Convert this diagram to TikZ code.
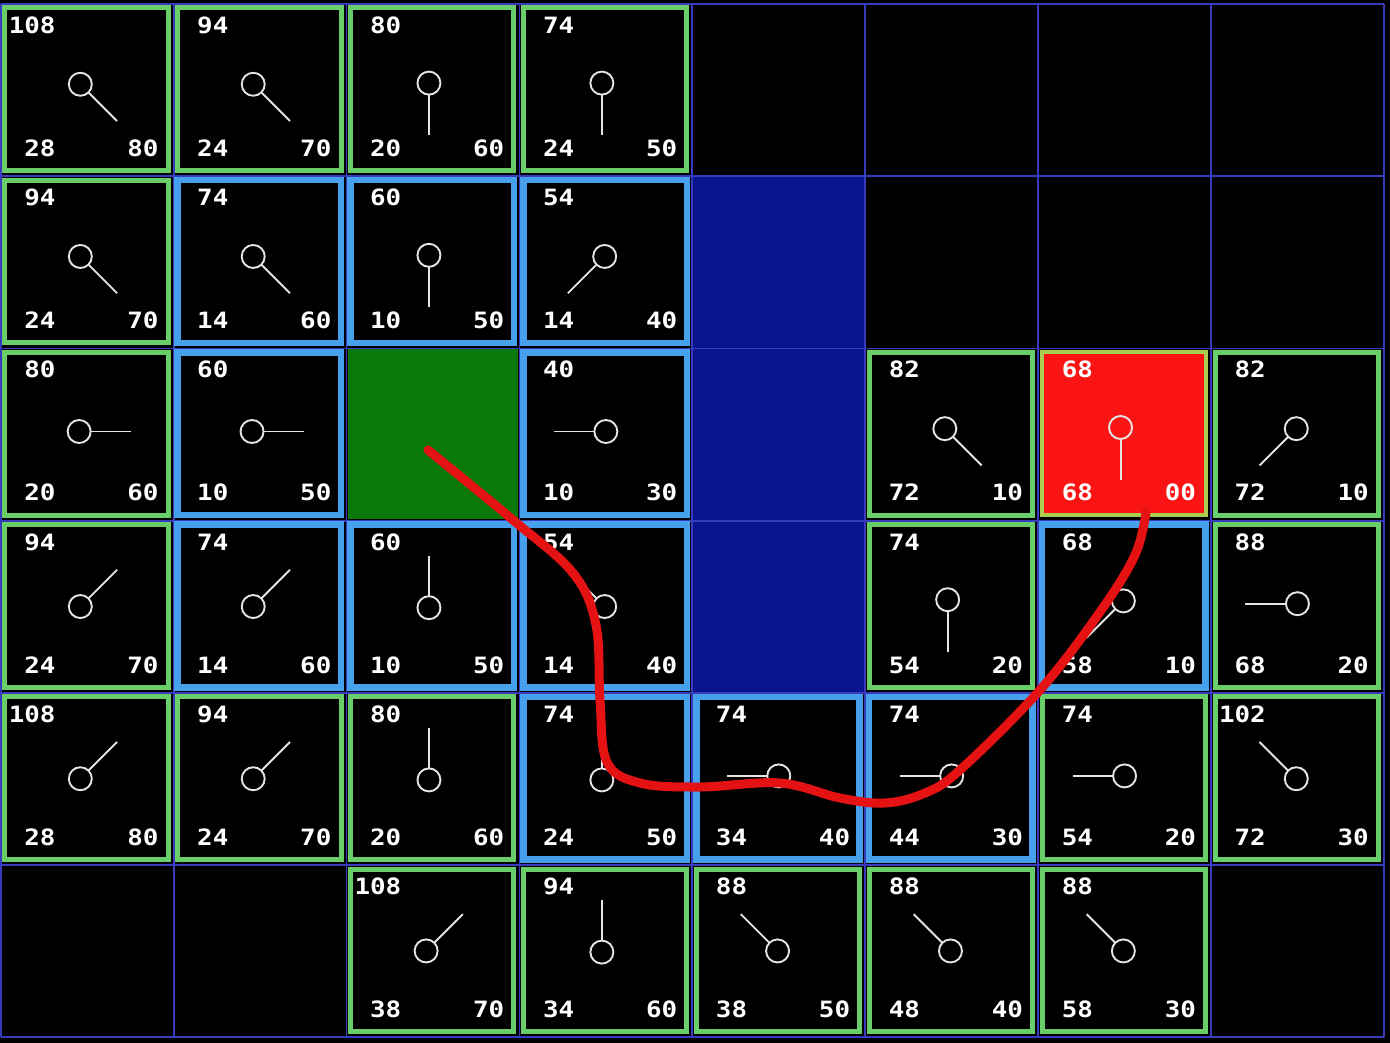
\documentclass[tikz,border=0pt]{standalone}
\usepackage{fontspec}
\usepackage{graphicx}
\newfontfamily\digitfont{DejaVu Sans Mono}
\definecolor{opengreen}{RGB}{105,205,105}
\definecolor{closedblue}{RGB}{70,160,235}
\definecolor{gridblue}{RGB}{55,60,190}
\definecolor{wallblue}{RGB}{10,20,140}
\definecolor{startgreen}{RGB}{10,120,10}
\definecolor{goalred}{RGB}{250,20,20}
\definecolor{goalrim}{RGB}{170,205,80}
\definecolor{routered}{RGB}{228,18,18}
\definecolor{pinwhite}{RGB}{228,228,228}
\tikzset{
  gridline/.style={draw=gridblue, line width=1.8pt},
  openbox/.style={draw=opengreen, line width=5pt},
  closedbox/.style={draw=closedblue, line width=6.5pt},
  goalbox/.style={fill=goalred, draw=goalrim, line width=4pt},
  wallcell/.style={fill=wallblue},
  startcell/.style={fill=startgreen},
  pin/.style={draw=pinwhite, line width=1.9pt},
  num/.style={text=white, inner sep=0pt, font=\digitfont\bfseries\fontsize{22.5}{22.5}\selectfont},
  route/.style={draw=routered, line width=9pt, line cap=round, line join=round},
}
% #1 col, #2 row, #3 box style, #4 f, #5 g, #6 h, #7 dx, #8 dy
\newcommand\gridcell[8]{%
  \pgfmathsetmacro\xa{0.7+172.9*#1}%
  \pgfmathsetmacro\ya{4+172.2*#2}%
  \pgfmathsetmacro\xb{\xa+172.9}%
  \pgfmathsetmacro\yb{\ya+172.2}%
  \draw[#3] (\xa+4,\ya+4) rectangle (\xb-5.5,\yb-5.5);
  \pgfmathsetmacro\nrm{1/sqrt((#7)*(#7)+(#8)*(#8))}%
  \pgfmathsetmacro\ux{(#7)*\nrm}%
  \pgfmathsetmacro\uy{(#8)*\nrm}%
  \pgfmathsetmacro\cx{(\xa+\xb)/2-4-4*\ux}%
  \pgfmathsetmacro\cy{(\ya+\yb)/2-3-4*\uy}%
  \pgfmathsetmacro\sx{\cx+11.5*\ux}%
  \pgfmathsetmacro\sy{\cy+11.5*\uy}%
  \pgfmathsetmacro\ex{\cx+52*\ux}%
  \pgfmathsetmacro\ey{\cy+52*\uy}%
  \draw[pin] (\cx,\cy) circle[radius=11.5];
  \draw[pin] (\sx,\sy) -- (\ex,\ey);
  \node[num, anchor=base east] (f#1-#2) at (\xa+55,\ya+29.5) {\scalebox{1.15}[1]{#4}};
  \node[num, anchor=base east] (g#1-#2) at (\xa+55,\ya+152.5) {\scalebox{1.15}[1]{#5}};
  \node[num, anchor=base east] (h#1-#2) at (\xa+158,\ya+152.5) {\scalebox{1.15}[1]{#6}};
}
\begin{document}
\begin{tikzpicture}[x=1pt,y=-1pt]
\useasboundingbox[fill=black] (0,0) rectangle (1390,1043);
% walls
\foreach \r in {1,2,3}{
  \fill[wallcell] (0.7+172.9*4,4+172.2*\r) rectangle (0.7+172.9*5,4+172.2*\r+172.2);
}
% grid
\foreach \i in {0,...,8}{
  \draw[gridline] (0.7+172.9*\i,4) -- (0.7+172.9*\i,1037.2);
}
\foreach \j in {0,...,6}{
  \draw[gridline] (0.7,4+172.2*\j) -- (1383.9,4+172.2*\j);
}
% start cell
\fill[startcell] (0.7+172.9*2+1.5,4+172.2*2+0.5) rectangle (0.7+172.9*3-1.5,4+172.2*3-1.5);
% row 0
\gridcell{0}{0}{openbox}{108}{28}{80}{1}{1}
\gridcell{1}{0}{openbox}{94}{24}{70}{1}{1}
\gridcell{2}{0}{openbox}{80}{20}{60}{0}{1}
\gridcell{3}{0}{openbox}{74}{24}{50}{0}{1}
% row 1
\gridcell{0}{1}{openbox}{94}{24}{70}{1}{1}
\gridcell{1}{1}{closedbox}{74}{14}{60}{1}{1}
\gridcell{2}{1}{closedbox}{60}{10}{50}{0}{1}
\gridcell{3}{1}{closedbox}{54}{14}{40}{-1}{1}
% row 2
\gridcell{0}{2}{openbox}{80}{20}{60}{1}{0}
\gridcell{1}{2}{closedbox}{60}{10}{50}{1}{0}
\gridcell{3}{2}{closedbox}{40}{10}{30}{-1}{0}
\gridcell{5}{2}{openbox}{82}{72}{10}{1}{1}
\gridcell{6}{2}{goalbox}{68}{68}{00}{0}{1}
\gridcell{7}{2}{openbox}{82}{72}{10}{-1}{1}
% row 3
\gridcell{0}{3}{openbox}{94}{24}{70}{1}{-1}
\gridcell{1}{3}{closedbox}{74}{14}{60}{1}{-1}
\gridcell{2}{3}{closedbox}{60}{10}{50}{0}{-1}
\gridcell{3}{3}{closedbox}{54}{14}{40}{-1}{-1}
\gridcell{5}{3}{openbox}{74}{54}{20}{0}{1}
\gridcell{6}{3}{closedbox}{68}{58}{10}{-1}{1}
\gridcell{7}{3}{openbox}{88}{68}{20}{-1}{0}
% row 4
\gridcell{0}{4}{openbox}{108}{28}{80}{1}{-1}
\gridcell{1}{4}{openbox}{94}{24}{70}{1}{-1}
\gridcell{2}{4}{openbox}{80}{20}{60}{0}{-1}
\gridcell{3}{4}{closedbox}{74}{24}{50}{0}{-1}
\gridcell{4}{4}{closedbox}{74}{34}{40}{-1}{0}
\gridcell{5}{4}{closedbox}{74}{44}{30}{-1}{0}
\gridcell{6}{4}{openbox}{74}{54}{20}{-1}{0}
\gridcell{7}{4}{openbox}{102}{72}{30}{-1}{-1}
% row 5
\gridcell{2}{5}{openbox}{108}{38}{70}{1}{-1}
\gridcell{3}{5}{openbox}{94}{34}{60}{0}{-1}
\gridcell{4}{5}{openbox}{88}{38}{50}{-1}{-1}
\gridcell{5}{5}{openbox}{88}{48}{40}{-1}{-1}
\gridcell{6}{5}{openbox}{88}{58}{30}{-1}{-1}
% route
\coordinate (routestart) at (428,450);
\coordinate (routeend) at (1146,512);
\draw[route] plot[smooth, tension=0.6] coordinates {(routestart) (513,520) (573,573) (596,625) (600,700) (607,762) (640,783) (700,787) (780,783) (840,798) (885,803) (925,793) (960,770) (1040,690) (1100,612) (1135,555) (routeend)};
\end{tikzpicture}
\end{document}
